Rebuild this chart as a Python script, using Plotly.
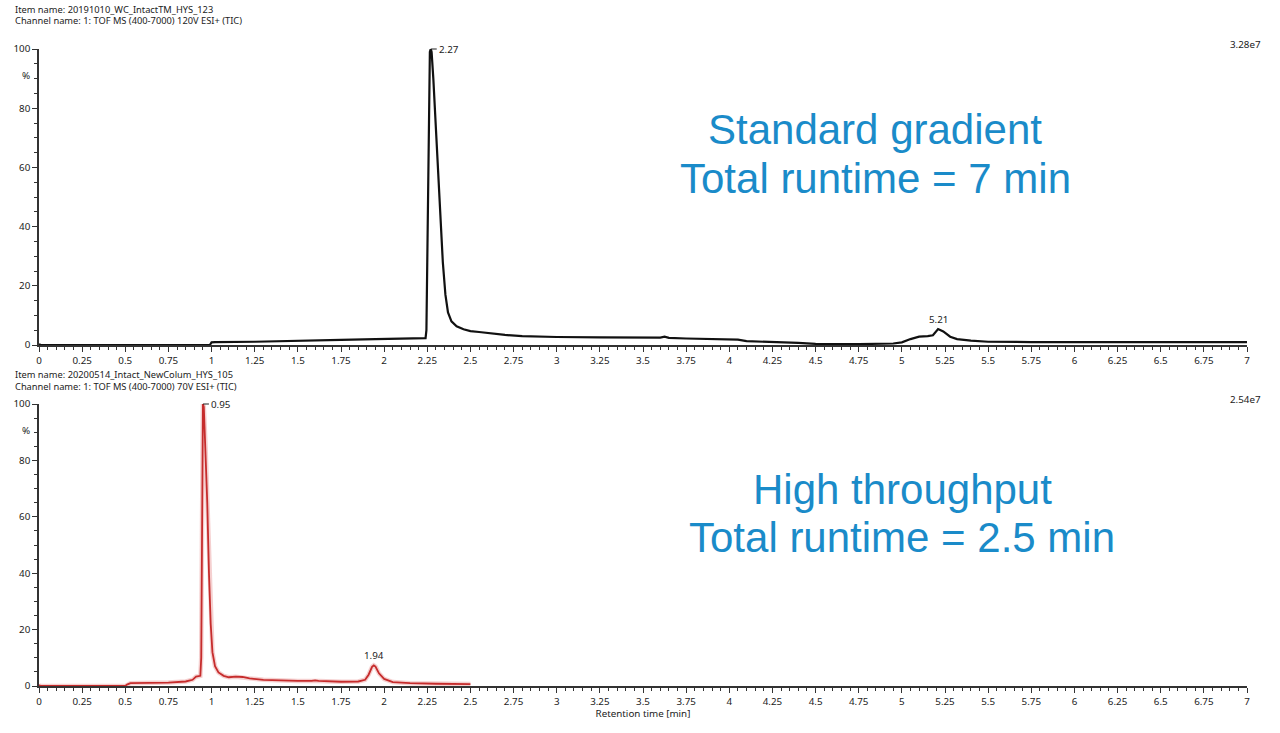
import plotly.graph_objects as go

# ---------------- data ----------------
std_time = [0.00, 0.01, 0.50, 0.99, 1.00, 1.02, 1.25, 1.50, 1.75, 1.95, 2.10, 2.24, 2.245, 2.25,
            2.258, 2.265, 2.27, 2.275, 2.285, 2.295, 2.31, 2.325, 2.34, 2.355, 2.37, 2.39, 2.42,
            2.46, 2.50, 2.55, 2.60, 2.70, 2.80, 2.90, 3.00, 3.25, 3.50, 3.60, 3.625, 3.65, 3.75,
            3.90, 4.05, 4.10, 4.25, 4.40, 4.50, 4.75, 4.95, 5.00, 5.05, 5.10, 5.15, 5.18, 5.21,
            5.24, 5.28, 5.32, 5.40, 5.50, 5.75, 6.00, 7.00]
std_intensity = [0.3, 0.0, 0.0, 0.0, 0.9, 1.0, 1.1, 1.3, 1.7, 2.0, 2.1, 2.3, 5.0, 30.0,
                 70.0, 99.0, 100.0, 99.0, 90.0, 78.0, 60.0, 42.0, 28.0, 17.0, 11.0, 8.0, 6.3,
                 5.3, 4.7, 4.4, 4.0, 3.4, 3.0, 2.8, 2.7, 2.6, 2.5, 2.5, 2.8, 2.4, 2.2,
                 2.0, 1.8, 1.3, 1.1, 0.7, 0.4, 0.3, 0.5, 0.9, 2.0, 2.8, 3.0, 3.3, 5.4,
                 4.6, 2.8, 2.0, 1.5, 1.1, 1.0, 1.0, 1.0]

ht_time = [0.00, 0.01, 0.50, 0.51, 0.53, 0.75, 0.85, 0.89, 0.91, 0.935, 0.94, 0.945, 0.95,
           0.955, 0.965, 0.975, 0.985, 0.995, 1.005, 1.02, 1.04, 1.07, 1.10, 1.14, 1.18, 1.22,
           1.30, 1.40, 1.50, 1.58, 1.60, 1.62, 1.75, 1.85, 1.89, 1.91, 1.93, 1.94, 1.95, 1.97,
           2.00, 2.05, 2.15, 2.30, 2.50]
ht_intensity = [0.3, 0.0, 0.0, 0.5, 1.0, 1.2, 1.6, 2.2, 3.3, 3.6, 10.0, 60.0, 100.0,
                99.0, 85.0, 65.0, 40.0, 22.0, 12.0, 7.0, 4.8, 3.6, 3.1, 3.3, 3.2, 2.7,
                2.2, 1.9, 1.8, 1.8, 2.0, 1.8, 1.5, 1.6, 2.2, 4.0, 6.8, 7.3, 6.9, 4.5,
                2.5, 1.4, 1.0, 0.8, 0.7]

std_peaks = [2.27, 5.21]
std_peak_heights = [100.0, 5.4]
ht_peaks = [0.95, 1.94]
ht_peak_heights = [100.0, 7.3]

x_tick_vals = [i * 0.25 for i in range(29)]
x_tick_text = ["0", "0.25", "0.5", "0.75", "1", "1.25", "1.5", "1.75", "2", "2.25", "2.5",
               "2.75", "3", "3.25", "3.5", "3.75", "4", "4.25", "4.5", "4.75", "5", "5.25",
               "5.5", "5.75", "6", "6.25", "6.5", "6.75", "7"]
y_tick_vals = [0, 20, 40, 60, 80, 100]

std_item = "Item name: 20191010_WC_IntactTM_HYS_123"
std_channel = "Channel name: 1: TOF MS (400-7000) 120V ESI+ (TIC)"
ht_item = "Item name: 20200514_Intact_NewColum_HYS_105"
ht_channel = "Channel name: 1: TOF MS (400-7000) 70V ESI+ (TIC)"
std_scale = "3.28e7"
ht_scale = "2.54e7"
std_title = ["Standard gradient", "Total runtime = 7 min"]
ht_title = ["High throughput", "Total runtime = 2.5 min"]

# ---------------- layout helpers ----------------
W, H = 1280, 733
ML, MT = 39, 49
MR = W - 1247
MB = H - 686
PW, PH = W - ML - MR, H - MT - MB


def px_x(p):
    return (p - ML) / PW


def px_y(p):
    return (H - MB - p) / PH


small_font = dict(family="Noto Sans, Open Sans, sans-serif", size=9.3, color="#222222")
tick_font = dict(family="Noto Sans, Open Sans, sans-serif", size=9.8, color="#222222")
big_font = dict(family="Liberation Sans, Arial, sans-serif", size=42, color="#1a8bc9")

fig = go.Figure()

fig.add_trace(go.Scatter(x=std_time, y=std_intensity, mode="lines",
                         line=dict(color="#111111", width=2.2), xaxis="x", yaxis="y",
                         hoverinfo="skip", showlegend=False))
fig.add_trace(go.Scatter(x=ht_time, y=ht_intensity, mode="lines",
                         line=dict(color="rgba(225,120,120,0.35)", width=4.5), xaxis="x2", yaxis="y2",
                         hoverinfo="skip", showlegend=False))
fig.add_trace(go.Scatter(x=ht_time, y=ht_intensity, mode="lines",
                         line=dict(color="#c62c2c", width=1.8), xaxis="x2", yaxis="y2",
                         hoverinfo="skip", showlegend=False))

axis_common = dict(
    showgrid=False, zeroline=False, showline=True, linecolor="#333333", linewidth=1.5,
    ticks="outside", tickcolor="#333333", tickfont=tick_font, automargin=False,
)

xaxis_common = dict(axis_common, range=[0, 7], tickvals=x_tick_vals, ticktext=x_tick_text,
                    ticklen=5, minor=dict(dtick=0.05, ticklen=3, tickcolor="#333333", ticks="outside"))
yaxis_common = dict(axis_common, range=[0, 100], tickvals=y_tick_vals, ticklen=5,
                    minor=dict(dtick=5, ticklen=3, tickcolor="#333333", ticks="outside"))

top_bottom = px_y(345)
bot_top = px_y(404)

fig.update_layout(
    width=W, height=H,
    margin=dict(l=ML, r=MR, t=MT, b=MB, autoexpand=False),
    paper_bgcolor="white", plot_bgcolor="white",
    xaxis=dict(xaxis_common, domain=[0, 1], anchor="y"),
    yaxis=dict(yaxis_common, domain=[top_bottom, 1], anchor="x"),
    xaxis2=dict(xaxis_common, domain=[0, 1], anchor="y2",
                title=dict(text="Retention time [min]", font=tick_font, standoff=4)),
    yaxis2=dict(yaxis_common, domain=[0, bot_top], anchor="x2"),
)

ann = []
# header lines
for text, py in [(std_item, 9), (std_channel, 21), (ht_item, 374), (ht_channel, 386)]:
    ann.append(dict(text=text, xref="paper", yref="paper", x=px_x(13), y=px_y(py),
                    xanchor="left", yanchor="middle", showarrow=False, font=small_font))
# % labels
for py in [76, 431]:
    ann.append(dict(text="%", xref="paper", yref="paper", x=px_x(32), y=px_y(py),
                    xanchor="right", yanchor="middle", showarrow=False, font=tick_font))
# scale labels
for text, py in [(std_scale, 44), (ht_scale, 399)]:
    ann.append(dict(text=text, xref="paper", yref="paper", x=px_x(1263), y=px_y(py),
                    xanchor="right", yanchor="middle", showarrow=False, font=tick_font))
# big titles
for lines, cx, ys in [(std_title, 875, [130, 178]), (ht_title, 902, [489, 537])]:
    for line, py in zip(lines, ys):
        ann.append(dict(text=line, xref="paper", yref="paper", x=px_x(cx), y=px_y(py),
                        xanchor="center", yanchor="middle", showarrow=False, font=big_font))

# peak labels
for (xa, ya), peaks, heights in [(("x", "y"), std_peaks, std_peak_heights),
                                 (("x2", "y2"), ht_peaks, ht_peak_heights)]:
    for i, (pk, hgt) in enumerate(zip(peaks, heights)):
        if i == 0:
            ann.append(dict(text=f"{pk:.2f}", xref=xa, yref=ya, x=pk, y=hgt,
                            showarrow=True, arrowhead=0, arrowwidth=1, arrowcolor="#222222",
                            ax=6, ay=0, xanchor="left", yanchor="middle", font=tick_font))
        else:
            ann.append(dict(text=f"{pk:.2f}", xref=xa, yref=ya, x=pk, y=hgt,
                            showarrow=False, xanchor="center", yanchor="bottom", yshift=1,
                            font=tick_font))

fig.update_layout(annotations=ann)

fig.write_html("out.html", config={"displayModeBar": False},
               post_script="document.body.style.margin='0';document.body.style.overflow='hidden';")
